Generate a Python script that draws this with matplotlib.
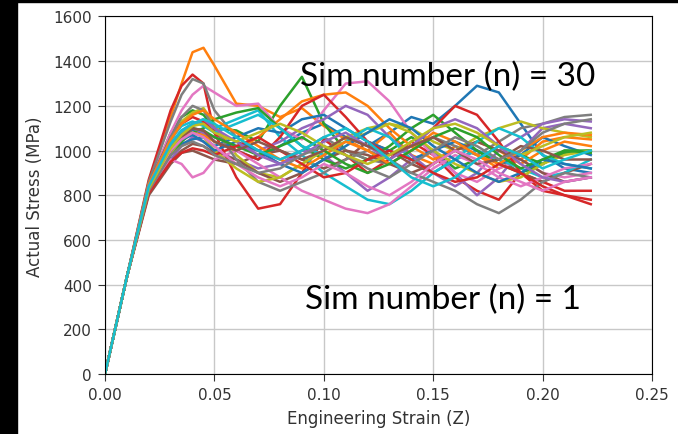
import matplotlib.pyplot as plt
from matplotlib.patches import Rectangle

# ── Data ──────────────────────────────────────────────────────────────────────
# elastic part is common to all curves
ELASTIC_STRAIN = [0.0, 0.01]
ELASTIC_STRESS = [0.0, 435.0]

STRAIN = [0.02, 0.03, 0.035, 0.04, 0.045, 0.05, 0.06, 0.07, 0.08, 0.09, 0.10,
          0.11, 0.12, 0.13, 0.14, 0.15, 0.16, 0.17, 0.18, 0.19, 0.20, 0.21, 0.222]

sim01 = [840, 1000, 1060, 1090, 1080, 1040, 1000, 960, 1020, 1080, 1120, 1060, 1020, 1080, 1150, 1120, 1200, 1290, 1260, 1120, 980, 920, 900]
sim02 = [860, 1150, 1300, 1440, 1460, 1380, 1210, 1200, 1150, 1190, 1110, 1050, 1000, 1080, 980, 940, 1020, 980, 920, 960, 1040, 1060, 1050]
sim03 = [840, 1080, 1150, 1180, 1160, 1100, 1090, 1040, 1200, 1330, 1120, 1000, 960, 1000, 1060, 1000, 920, 960, 1020, 980, 940, 990, 1000]
sim04 = [870, 1180, 1290, 1340, 1300, 1080, 880, 740, 760, 900, 1050, 980, 900, 960, 1040, 980, 880, 820, 780, 900, 860, 820, 820]
sim05 = [820, 960, 1020, 1060, 1040, 1000, 960, 920, 940, 1000, 980, 900, 820, 880, 960, 1000, 900, 800, 880, 1000, 1100, 1120, 1100]
sim06 = [800, 940, 990, 1000, 980, 960, 940, 980, 1000, 960, 920, 960, 1040, 1000, 940, 900, 960, 1000, 960, 900, 860, 900, 940]
sim07 = [850, 1080, 1180, 1250, 1290, 1260, 1200, 1210, 1100, 1050, 1180, 1300, 1310, 1220, 1080, 980, 900, 860, 920, 960, 900, 880, 900]
sim08 = [860, 1130, 1250, 1320, 1300, 1180, 1060, 1000, 960, 1000, 1060, 1000, 960, 940, 1000, 1060, 1020, 980, 1040, 1100, 1120, 1150, 1160]
sim09 = [830, 1040, 1130, 1170, 1190, 1120, 980, 900, 880, 940, 1000, 1060, 1100, 1120, 1100, 1040, 1000, 1060, 1100, 1130, 1100, 1080, 1060]
sim10 = [840, 1020, 1080, 1110, 1130, 1100, 1140, 1180, 1060, 980, 900, 840, 780, 760, 820, 900, 960, 1000, 960, 920, 880, 900, 960]
sim11 = [820, 980, 1030, 1050, 1060, 1020, 1060, 1100, 1080, 1140, 1160, 1100, 1040, 1000, 960, 1000, 1040, 1000, 940, 980, 1060, 1020, 980]
sim12 = [830, 1000, 1060, 1080, 1070, 1040, 1000, 1060, 1140, 1220, 1250, 1260, 1200, 1100, 1020, 960, 1000, 1040, 1000, 940, 1000, 1040, 1020]
sim13 = [820, 980, 1040, 1080, 1100, 1140, 1170, 1190, 1100, 1020, 960, 920, 960, 1020, 1100, 1160, 1080, 1000, 940, 900, 940, 1000, 1000]
sim14 = [850, 1060, 1120, 1150, 1130, 1080, 1000, 960, 1060, 1200, 1250, 1150, 1040, 980, 1020, 1100, 1200, 1160, 1040, 900, 820, 800, 780]
sim15 = [830, 1000, 1060, 1100, 1080, 1060, 1020, 1000, 1040, 1100, 1140, 1200, 1160, 1060, 980, 900, 840, 900, 1000, 1060, 1120, 1140, 1130]
sim16 = [810, 950, 1000, 1030, 1020, 990, 960, 900, 860, 900, 960, 1000, 980, 940, 900, 940, 1000, 1040, 1000, 960, 900, 860, 880]
sim17 = [820, 960, 940, 880, 900, 960, 1000, 940, 880, 820, 780, 740, 720, 760, 840, 920, 980, 940, 880, 840, 880, 920, 940]
sim18 = [840, 1060, 1150, 1200, 1180, 1100, 960, 860, 820, 860, 900, 960, 1000, 960, 900, 860, 820, 760, 720, 780, 860, 900, 880]
sim19 = [820, 990, 1050, 1080, 1060, 1000, 920, 860, 880, 940, 1000, 1040, 1080, 1120, 1080, 1000, 940, 900, 860, 880, 940, 980, 1000]
sim20 = [850, 1050, 1110, 1130, 1110, 1080, 1120, 1160, 1100, 1020, 980, 1040, 1100, 1060, 960, 900, 960, 1040, 1100, 1060, 980, 940, 920]
sim21 = [830, 1000, 1050, 1070, 1040, 1000, 1040, 1000, 940, 900, 960, 1020, 1080, 1140, 1100, 1020, 960, 900, 860, 900, 960, 940, 920]
sim22 = [850, 1050, 1120, 1160, 1180, 1140, 1080, 1020, 960, 920, 980, 1040, 1000, 940, 1000, 1080, 1040, 980, 940, 1000, 1060, 1080, 1070]
sim23 = [830, 1010, 1070, 1100, 1090, 1060, 1020, 980, 1020, 1060, 1000, 940, 900, 940, 1000, 1060, 1100, 1060, 980, 920, 960, 1000, 990]
sim24 = [810, 950, 990, 1010, 1000, 980, 1020, 1060, 1000, 940, 880, 900, 960, 1000, 960, 900, 860, 880, 940, 900, 840, 800, 760]
sim25 = [840, 1030, 1090, 1120, 1140, 1100, 1040, 980, 940, 980, 1040, 1080, 1020, 960, 1020, 1100, 1140, 1100, 1020, 940, 880, 860, 880]
sim26 = [830, 1000, 1060, 1100, 1090, 1040, 1000, 1040, 1000, 960, 1000, 1060, 1020, 980, 1020, 1060, 1000, 940, 960, 1020, 1000, 960, 960]
sim27 = [830, 1000, 1050, 1080, 1060, 1020, 940, 880, 840, 880, 940, 900, 840, 800, 860, 940, 1000, 960, 900, 860, 820, 860, 880]
sim28 = [820, 980, 1020, 1040, 1020, 980, 940, 900, 920, 980, 1020, 980, 920, 880, 940, 1000, 1060, 1020, 960, 1000, 1080, 1120, 1140]
sim29 = [830, 1010, 1070, 1110, 1120, 1080, 1040, 1080, 1120, 1080, 1020, 980, 940, 980, 1040, 1100, 1120, 1080, 1020, 980, 1020, 1060, 1080]
sim30 = [840, 1030, 1090, 1120, 1140, 1120, 1060, 1000, 960, 1000, 1060, 1100, 1040, 960, 880, 840, 880, 960, 1020, 980, 920, 960, 1000]

SIMS = [sim01, sim02, sim03, sim04, sim05, sim06, sim07, sim08, sim09, sim10,
        sim11, sim12, sim13, sim14, sim15, sim16, sim17, sim18, sim19, sim20,
        sim21, sim22, sim23, sim24, sim25, sim26, sim27, sim28, sim29, sim30]

# ── Plot ──────────────────────────────────────────────────────────────────────
fig = plt.figure(figsize=(6.78, 4.35), dpi=100)
ax = fig.add_axes([0.1549, 0.1379, 0.8068, 0.8219])

for s in SIMS:
    ax.plot(ELASTIC_STRAIN + STRAIN, ELASTIC_STRESS + s, lw=1.8)

ax.set_xlim(0, 0.25)
ax.set_ylim(0, 1600)
ax.set_xticks([0.0, 0.05, 0.10, 0.15, 0.20, 0.25])
ax.set_yticks(range(0, 1601, 200))
ax.grid(True, color='#c8c8c8', lw=1)
ax.tick_params(labelsize=11, length=5, pad=4.5, colors='#333333',
               labelcolor='#333333')
ax.set_xlabel('Engineering Strain (Z)', fontsize=12, color='#333333')
ax.set_ylabel('Actual Stress (MPa)', fontsize=12, color='#333333')
ax.xaxis.set_label_coords(0.5, -0.098)
ax.yaxis.set_label_coords(-0.112, 0.5)

# slide annotations
fig.text(0.4425, 0.823, 'Sim number (n) = 30', fontsize=24, family='Lato',
         va='center', ha='left')
fig.text(0.450, 0.310, 'Sim number (n) = 1', fontsize=24, family='Lato',
         va='center', ha='left')

# black slide frame
fig.patches.append(Rectangle((0, 0), 17 / 678, 1, transform=fig.transFigure,
                             color='black', zorder=10))
fig.patches.append(Rectangle((0, 1 - 3 / 435), 1, 3 / 435,
                             transform=fig.transFigure, color='black', zorder=10))

fig.savefig('out.png', dpi=100)
